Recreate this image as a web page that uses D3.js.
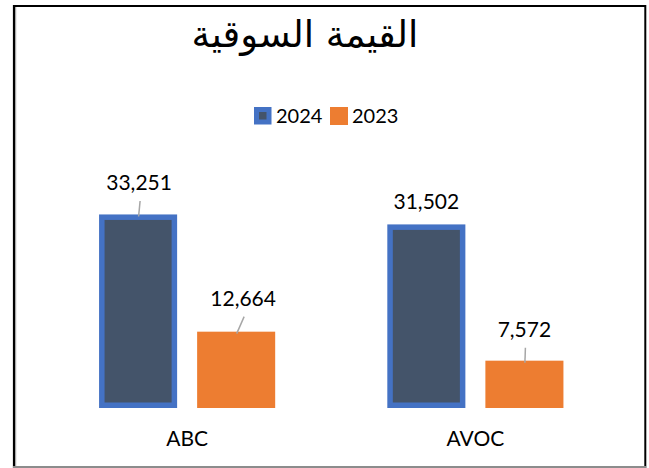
<!DOCTYPE html>
<html><head><meta charset="utf-8">
<script src="https://cdn.jsdelivr.net/npm/d3@7"></script>
<style>html,body{margin:0;padding:0;background:#fff;}svg{display:block;}</style>
</head><body>
<svg id="chart" width="649" height="468"></svg>
<script>
const title = "القيمة السوقية";
const categories = ["ABC", "AVOC"];
const seriesNames = ["2024", "2023"];
const values2024 = [33251, 31502];
const values2023 = [12664, 7572];
// label placement tweaks (dx from bar centre, dy from bar top), leader line shown
const labelDx = [[1, 7], [0, 0]];
const labelDy = [[-24, -25.5], [-15, -23.5]];
const labelLeader = [[true, true], [false, true]];

const colors = {"2024": {fill: "#44546A", stroke: "#4472C4"}, "2023": {fill: "#ED7D31", stroke: null}};
const font = "Lato, 'Open Sans', sans-serif";

const svg = d3.select("#chart");

// frame
svg.append("line").attr("x1", 13).attr("x2", 646).attr("y1", 6).attr("y2", 6).attr("stroke", "#000").attr("stroke-width", 2);
svg.append("line").attr("x1", 14).attr("x2", 14).attr("y1", 5).attr("y2", 468).attr("stroke", "#000").attr("stroke-width", 2.2);
svg.append("line").attr("x1", 15.7).attr("x2", 15.7).attr("y1", 7).attr("y2", 466).attr("stroke", "#999").attr("stroke-width", 1);
svg.append("line").attr("x1", 645.3).attr("x2", 645.3).attr("y1", 5).attr("y2", 468).attr("stroke", "#000").attr("stroke-width", 2);
svg.append("line").attr("x1", 13).attr("x2", 646).attr("y1", 467).attr("y2", 467).attr("stroke", "#8c8c8c").attr("stroke-width", 2);

// title
svg.append("text").attr("x", 305).attr("y", 47).attr("text-anchor", "middle")
  .attr("font-family", "'DejaVu Sans', sans-serif").attr("font-size", 37).attr("fill", "#000")
  .attr("direction", "rtl").text(title);

// scales
const x0 = d3.scaleBand().domain(categories).range([43, 619.5]).paddingInner(0.389).paddingOuter(0.1945);
const x1 = d3.scaleBand().domain(seriesNames).range([0, x0.bandwidth()]).paddingInner(0.204).paddingOuter(0);
const y = d3.scaleLinear().domain([-740, 36000]).range([408, 198.8]);
const fmt = d3.format(",");

const seriesValues = {"2024": values2024, "2023": values2023};

categories.forEach((cat, ci) => {
  const g = svg.append("g").attr("transform", `translate(${x0(cat)},0)`);
  seriesNames.forEach((s, si) => {
    const v = seriesValues[s][ci];
    const bx = x1(s), bw = x1.bandwidth();
    const top = y(v), bottom = y.range()[0];
    if (colors[s].stroke) {
      const sw = 5.5;
      g.append("rect").attr("x", bx + sw / 2).attr("y", top + sw / 2)
        .attr("width", bw - sw).attr("height", bottom - top - sw)
        .attr("fill", colors[s].fill).attr("stroke", colors[s].stroke).attr("stroke-width", sw);
    } else {
      g.append("rect").attr("x", bx).attr("y", top).attr("width", bw).attr("height", bottom - top)
        .attr("fill", colors[s].fill);
    }
    const cx = bx + bw / 2;
    const lx = cx + labelDx[ci][si], ly = top + labelDy[ci][si];
    g.append("text").attr("x", lx).attr("y", ly).attr("text-anchor", "middle")
      .attr("font-family", font).attr("font-size", 21).attr("fill", "#000").text(fmt(v));
    if (labelLeader[ci][si]) {
      g.append("line").attr("x1", lx + 1).attr("y1", ly + 10.5).attr("x2", cx + 0.5).attr("y2", top + 2)
        .attr("stroke", "#A6A6A6").attr("stroke-width", 1.5);
    }
  });
  svg.append("text").attr("x", x0(cat) + x0.bandwidth() / 2).attr("y", 446).attr("text-anchor", "middle")
    .attr("font-family", font).attr("font-size", 21).attr("fill", "#000").text(cat);
});

// legend
const legend = svg.append("g").attr("transform", "translate(254,107)");
const legendX = [0, 76];
seriesNames.forEach((s, i) => {
  const lg = legend.append("g").attr("transform", `translate(${legendX[i]},0)`);
  if (colors[s].stroke) {
    lg.append("rect").attr("x", 0).attr("y", 0).attr("width", 17.5).attr("height", 17.5).attr("fill", colors[s].stroke);
    lg.append("rect").attr("x", 5).attr("y", 5).attr("width", 7.5).attr("height", 7.5).attr("fill", colors[s].fill);
  } else {
    lg.append("rect").attr("x", 0).attr("y", 0).attr("width", 18).attr("height", 18).attr("fill", colors[s].fill);
  }
  lg.append("text").attr("x", 22).attr("y", 15.5).attr("font-family", font).attr("font-size", 20)
    .attr("fill", "#000").text(s);
});
</script>
</body></html>
